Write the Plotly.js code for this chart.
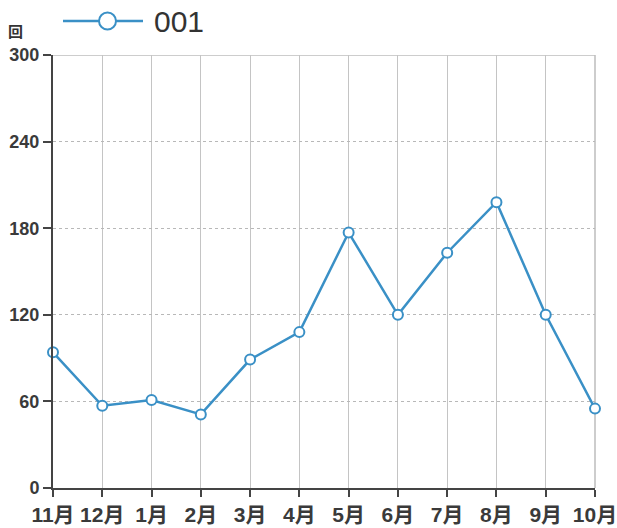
<!DOCTYPE html>
<html><head><meta charset="utf-8">
<script src="https://cdn.plot.ly/plotly-3.0.1.min.js"></script>
<style>body{margin:0;background:#fff}#c{width:617px;height:528px}</style>
</head><body><div id="c"></div>
<script>
const months = ['11月','12月','1月','2月','3月','4月','5月','6月','7月','8月','9月','10月'];
const counts = [94, 57, 61, 51, 89, 108, 177, 120, 163, 198, 120, 55];
const yTicks = [0, 60, 120, 180, 240, 300];
const seriesName = '001';
const unitLabel = '回';

const lineColor = '#3a90c6';
const fontFam = '"Liberation Sans Narrow", "Liberation Sans", "Noto Sans CJK JP", sans-serif';

const trace = {
  x: months, y: counts, type: 'scatter', mode: 'lines+markers', name: seriesName,
  line: {color: lineColor, width: 2.5},
  marker: {symbol: 'circle', size: 10, color: '#ffffff', line: {color: lineColor, width: 2}},
  showlegend: false, cliponaxis: false
};

const T = 55, B = 488;
const px = (p) => (p - 53) / 542;
const py = (p) => (B - p) / (B - T);

const layout = {
  width: 617, height: 528,
  margin: {l: 53, r: 22, t: T, b: 528 - B},
  paper_bgcolor: '#ffffff', plot_bgcolor: '#ffffff',
  font: {family: fontFam, color: '#333333'},
  xaxis: {
    type: 'category', range: [0, months.length - 1],
    showgrid: true, gridcolor: '#c4c4c4', gridwidth: 1,
    showline: true, linecolor: '#444444', linewidth: 2,
    ticks: 'outside', ticklen: 7, tickcolor: '#444444', tickwidth: 2,
    tickangle: 0, ticklabelstandoff: 0,
    tickfont: {size: 21, color: '#3a3a3a', family: fontFam, weight: 'bold'},
    zeroline: false, fixedrange: true
  },
  yaxis: {
    range: [0, 300], tickvals: yTicks, ticktext: yTicks.map(String),
    showgrid: true, gridcolor: '#b8b8b8', griddash: 'dot', gridwidth: 1,
    showline: true, linecolor: '#444444', linewidth: 2,
    ticks: 'outside', ticklen: 8, tickcolor: '#444444', tickwidth: 2,
    tickfont: {size: 18, color: '#3a3a3a', family: fontFam, weight: 'bold'},
    zeroline: false, fixedrange: true
  },
  shapes: [
    {type: 'line', xref: 'paper', yref: 'y', x0: 0, x1: 1, y0: 300, y1: 300, layer: 'below',
     line: {color: '#bdbdbd', width: 1.5}},
    {type: 'line', xref: 'paper', yref: 'paper', x0: 1, x1: 1, y0: 0, y1: 1, layer: 'below',
     line: {color: '#bdbdbd', width: 1.5}},
    {type: 'line', xref: 'paper', yref: 'paper', x0: px(63), x1: px(143), y0: py(21), y1: py(21),
     line: {color: lineColor, width: 2.5}},
    {type: 'circle', xref: 'paper', yref: 'paper', x0: px(99), x1: px(116), y0: py(29.5), y1: py(12.5),
     fillcolor: '#ffffff', line: {color: lineColor, width: 2}}
  ],
  annotations: [
    {text: seriesName, xref: 'paper', yref: 'paper', x: px(152), y: py(21), xanchor: 'left', yanchor: 'middle',
     showarrow: false, font: {size: 30, color: '#333333', family: fontFam}},
    {text: '<b>' + unitLabel + '</b>', xref: 'paper', yref: 'paper', x: px(6), y: py(31), xanchor: 'left', yanchor: 'middle',
     showarrow: false, font: {size: 15, color: '#333333', family: '"Noto Sans CJK JP", sans-serif'}}
  ]
};

Plotly.newPlot('c', [trace], layout, {displayModeBar: false, staticPlot: true});
</script></body></html>
